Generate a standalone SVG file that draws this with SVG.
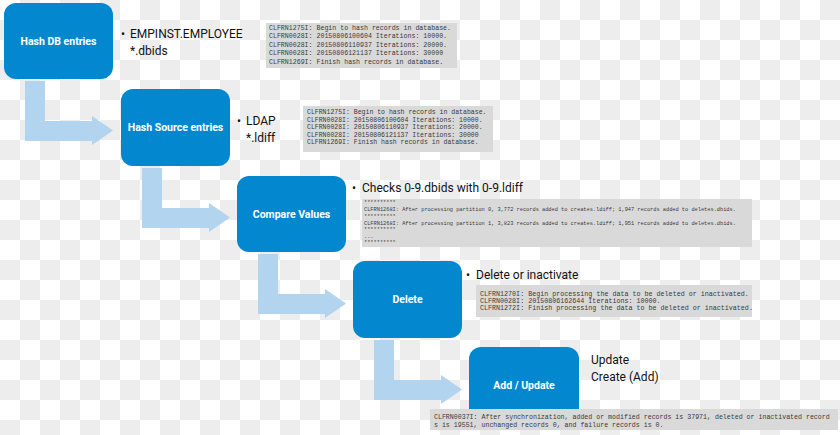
<svg xmlns="http://www.w3.org/2000/svg" width="840" height="435" viewBox="0 0 840 435">
<defs>
<pattern id="checker" x="0" y="0" width="40" height="40" patternUnits="userSpaceOnUse">
<rect width="40" height="40" fill="#ffffff"/>
<rect x="20" y="0" width="20" height="20" fill="#ededed"/>
<rect x="0" y="20" width="20" height="20" fill="#ededed"/>
</pattern>
<polygon id="arrowShape" points="25,81 45,81 45,121 92,121 92,116 113,130.5 92,145 92,141 25,141"/>
</defs>
<style>
.node rect{fill:#0388cf}
.label{font-family:Roboto,"Liberation Sans",sans-serif;font-weight:bold;font-size:10.5px;fill:#ffffff;text-anchor:middle}
.arrow{fill:#b3d4ee}
.note{font-family:Roboto,"Liberation Sans",sans-serif;font-size:12px;fill:#111111}
.logbox{fill:#d9d9d9}
.log{font-family:"Liberation Mono","DejaVu Sans Mono",monospace;fill:#3a3a3a}
</style>
<rect width="840" height="435" fill="url(#checker)"/>

<g id="connectors">
<use href="#arrowShape" class="arrow"/>
<use href="#arrowShape" class="arrow" transform="translate(117,87)"/>
<use href="#arrowShape" class="arrow" transform="translate(233,173)"/>
<use href="#arrowShape" class="arrow" transform="translate(349,259)"/>
</g>

<g id="node-hash-db" class="node">
<rect x="4" y="3" width="109" height="76" rx="12"/>
<text class="label" x="58.5" y="45">Hash DB entries</text>
</g>
<g id="node-hash-source" class="node">
<rect x="121" y="89" width="109" height="77" rx="12"/>
<text class="label" x="175.5" y="131">Hash Source entries</text>
</g>
<g id="node-compare" class="node">
<rect x="237" y="176" width="109" height="76" rx="12"/>
<text class="label" x="291.5" y="218">Compare Values</text>
</g>
<g id="node-delete" class="node">
<rect x="353" y="261" width="109" height="77" rx="12"/>
<text class="label" x="407.5" y="303">Delete</text>
</g>
<g id="node-add-update" class="node">
<rect x="469" y="347" width="110" height="76" rx="12"/>
<text class="label" x="524" y="389">Add / Update</text>
</g>

<g id="notes">
<text class="note" x="121" y="38">•</text>
<text class="note" x="130" y="38">EMPINST.EMPLOYEE</text>
<text class="note" x="130" y="55">*.dbids</text>
<text class="note" x="237" y="125">•</text>
<text class="note" x="246" y="125">LDAP</text>
<text class="note" x="246" y="142">*.ldiff</text>
<text class="note" x="352" y="192">•</text>
<text class="note" x="362" y="192">Checks 0-9.dbids with 0-9.ldiff</text>
<text class="note" x="466" y="279">•</text>
<text class="note" x="476" y="279">Delete or inactivate</text>
<text class="note" x="591" y="364">Update</text>
<text class="note" x="591" y="381">Create (Add)</text>
</g>

<g id="log-1">
<rect class="logbox" x="266" y="23" width="191" height="45"/>
<text class="log" font-size="6.6" x="269">
<tspan x="269" y="29.5">CLFRN1275I: Begin to hash records in database.</tspan>
<tspan x="269" y="38">CLFRN0028I: 20150806100604 Iterations: 10000.</tspan>
<tspan x="269" y="46.5">CLFRN0028I: 20150806110937 Iterations: 20000.</tspan>
<tspan x="269" y="55">CLFRN0028I: 20150806121137 Iterations: 30000</tspan>
<tspan x="269" y="63.5">CLFRN1269I: Finish hash records in database.</tspan>
</text>
</g>
<g id="log-2">
<rect class="logbox" x="303" y="106" width="190" height="46"/>
<text class="log" font-size="6.5">
<tspan x="307" y="114">CLFRN1275I: Begin to hash records in database.</tspan>
<tspan x="307" y="121.5">CLFRN0028I: 20150806100604 Iterations: 10000.</tspan>
<tspan x="307" y="129">CLFRN0028I: 20150806110937 Iterations: 20000.</tspan>
<tspan x="307" y="136.5">CLFRN0028I: 20150806121137 Iterations: 30000</tspan>
<tspan x="307" y="144">CLFRN1269I: Finish hash records in database.</tspan>
</text>
</g>
<g id="log-3">
<rect class="logbox" x="362" y="199" width="390" height="48"/>
<text class="log" font-size="5.3">
<tspan x="364" y="204">**********</tspan>
<tspan x="364" y="211">CLFRN1268I: After processing partition 0, 3,772 records added to creates.ldiff; 1,947 records added to deletes.dbids.</tspan>
<tspan x="364" y="217.5">**********</tspan>
<tspan x="364" y="224.5">CLFRN1268I: After processing partition 1, 3,823 records added to creates.ldiff; 1,951 records added to deletes.dbids.</tspan>
<tspan x="364" y="231">**********</tspan>
<tspan x="364" y="238">...</tspan>
<tspan x="364" y="244">**********</tspan>
</text>
</g>
<g id="log-4">
<rect class="logbox" x="476" y="285" width="276" height="32"/>
<text class="log" font-size="6.7">
<tspan x="480" y="296">CLFRN1270I: Begin processing the data to be deleted or inactivated.</tspan>
<tspan x="480" y="303">CLFRN0028I: 20150806162644 Iterations: 10000.</tspan>
<tspan x="480" y="310">CLFRN1272I: Finish processing the data to be deleted or inactivated.</tspan>
</text>
</g>
<g id="log-5">
<rect class="logbox" x="430" y="409" width="408" height="21"/>
<text class="log" font-size="6.6">
<tspan x="434" y="419">CLFRN0037I: After synchronization, added or modified records is 37971, deleted or inactivated record</tspan>
<tspan x="434" y="427">s is 19551, unchanged records 0, and failure records is 0.</tspan>
</text>
</g>
</svg>
